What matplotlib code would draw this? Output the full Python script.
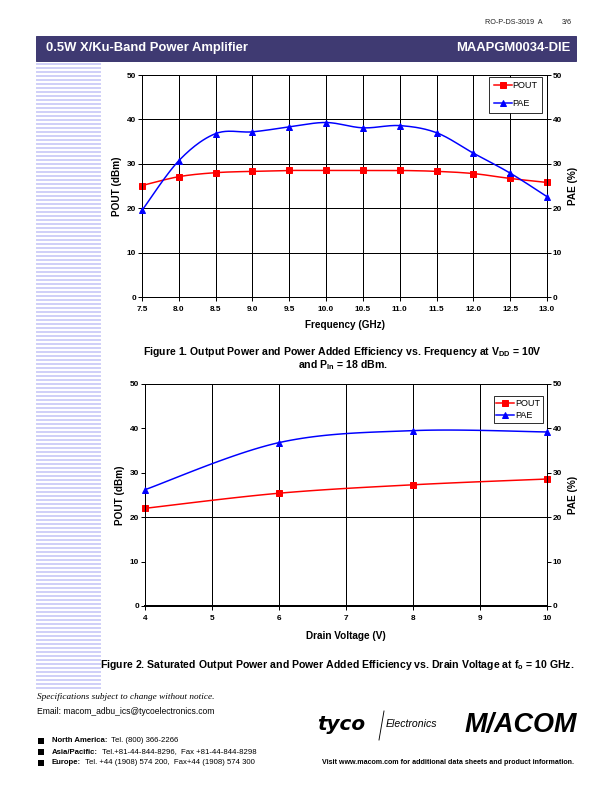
import numpy as np
import matplotlib
matplotlib.use("Agg")
import matplotlib.pyplot as plt
from matplotlib.patches import Rectangle
from matplotlib.lines import Line2D

plt.rcParams['font.family'] = ['Liberation Sans', 'DejaVu Sans']
plt.rcParams['mathtext.default'] = 'regular'

# ---------------- data ----------------
freq_ghz = [7.5, 8.0, 8.5, 9.0, 9.5, 10.0, 10.5, 11.0, 11.5, 12.0, 12.5, 13.0]
pout_freq = [25.1, 27.1, 28.0, 28.3, 28.5, 28.5, 28.5, 28.5, 28.3, 27.8, 26.7, 25.8]
pae_freq = [19.5, 30.7, 36.8, 37.2, 38.3, 39.3, 38.1, 38.6, 37.0, 32.4, 27.9, 22.6]

vdd_v = [4, 6, 8, 10]
pout_vdd = [22.0, 25.4, 27.3, 28.6]
pae_vdd = [26.2, 36.8, 39.5, 39.2]

freq_ticks = [7.5, 8.0, 8.5, 9.0, 9.5, 10.0, 10.5, 11.0, 11.5, 12.0, 12.5, 13.0]
freq_ticklabels = ['7.5', '8.0', '8.5', '9.0', '9.5', '10.0', '10.5', '11.0', '11.5', '12.0', '12.5', '13.0']
vdd_ticks = [4, 5, 6, 7, 8, 9, 10]
y_ticks = [0, 10, 20, 30, 40, 50]

W, H = 612, 792
fig = plt.figure(figsize=(W / 72, H / 72), dpi=72)


def fx(x):
    return x / W


def fy(y):
    return 1 - y / H


def smooth(x, y, n=24):
    """Excel-like smoothed line (Catmull-Rom through the data points)."""
    P = np.column_stack([x, y]).astype(float)
    P = np.vstack([P[0], P, P[-1]])
    t = np.linspace(0, 1, n)[:, None]
    segs = []
    for i in range(1, len(P) - 2):
        p0, p1, p2, p3 = P[i - 1], P[i], P[i + 1], P[i + 2]
        c = 0.5 * (2 * p1 + (-p0 + p2) * t + (2 * p0 - 5 * p1 + 4 * p2 - p3) * t ** 2
                   + (-p0 + 3 * p1 - 3 * p2 + p3) * t ** 3)
        segs.append(c)
    c = np.vstack(segs)
    return c[:, 0], c[:, 1]


# ---------------- page decoration ----------------
fig.patches.append(Rectangle((fx(36), fy(61)), fx(576) - fx(36), fy(36) - fy(61),
                             transform=fig.transFigure, color='#3f3a72', zorder=0))
fig.text(fx(46), fy(48), '0.5W X/Ku-Band Power Amplifier', color='white',
         fontsize=13, fontweight='bold', va='center', ha='left')
fig.text(fx(570), fy(48), 'MAAPGM0034-DIE', color='white',
         fontsize=13, fontweight='bold', va='center', ha='right')
fig.text(fx(485), fy(22.5), 'RO-P-DS-3019  A', fontsize=7.3,
         va='center', ha='left', color='#222222')
fig.text(fx(572), fy(22.5), '3/6', fontsize=7.3,
         va='center', ha='right', color='#222222')

for ys in range(63, 688, 4):
    fig.patches.append(Rectangle((fx(36), fy(ys + 2)), fx(101) - fx(36), 2 / H,
                                 transform=fig.transFigure, color='#d0d0f8', zorder=0, lw=0))

tick_font = dict(fontsize=8.3, fontweight='bold')
lab_font = dict(fontsize=10, fontweight='bold')


def style_axes(ax, ax2, xticks, xlabels, xlim):
    ax.set_xlim(*xlim)
    ax.set_ylim(0, 50)
    ax2.set_ylim(0, 50)
    ax.set_xticks(xticks)
    ax.set_xticklabels(xlabels, **tick_font)
    ax.set_yticks(y_ticks)
    ax.set_yticklabels([str(v) for v in y_ticks], **tick_font)
    ax2.set_yticks(y_ticks)
    ax2.set_yticklabels([str(v) for v in y_ticks], **tick_font)
    for a in (ax, ax2):
        a.tick_params(direction='out', length=4, width=1, color='black')
        a.tick_params(axis='y', pad=2)
        a.tick_params(axis='x', pad=5)
        for s in a.spines.values():
            s.set_color('black')
            s.set_linewidth(1)
    ax.set_ylabel('POUT (dBm)', labelpad=5, **lab_font)
    ax2.set_ylabel('PAE (%)', labelpad=6, **lab_font)


def legend(ax, anchor, spacing, pad):
    handles = [Line2D([], [], color='#ff0000', marker='s', markersize=6, lw=1.5),
               Line2D([], [], color='#0000ff', marker='^', markersize=6, lw=1.5)]
    lg = ax.legend(handles, ['POUT', 'PAE'], loc='upper right',
                   bbox_to_anchor=anchor, bbox_transform=fig.transFigure,
                   fontsize=9, frameon=True, fancybox=False, framealpha=1,
                   edgecolor='black', handlelength=2.0, handletextpad=0.1,
                   borderpad=pad, labelspacing=spacing, borderaxespad=0)
    lg.get_frame().set_linewidth(0.8)
    lg.set_zorder(10)


# ---------------- Figure 1 ----------------
ax1 = fig.add_axes([fx(142), fy(297), fx(547) - fx(142), fy(75) - fy(297)])
ax1b = ax1.twinx()
ax1.grid(True, color='black', lw=1)
ax1.set_axisbelow(True)
sx, sy = smooth(freq_ghz, pout_freq)
ax1.plot(sx, sy, color='#ff0000', lw=1.5, zorder=3)
ax1.plot(freq_ghz, pout_freq, ls='none', marker='s', markersize=6, color='#ff0000',
         zorder=4, clip_on=False)
sx, sy = smooth(freq_ghz, pae_freq)
ax1b.plot(sx, sy, color='#0000ff', lw=1.5, zorder=3)
ax1b.plot(freq_ghz, pae_freq, ls='none', marker='^', markersize=6, color='#0000ff',
          zorder=4, clip_on=False)
style_axes(ax1, ax1b, freq_ticks, freq_ticklabels, (7.5, 13.0))
ax1.set_xlabel('Frequency (GHz)', labelpad=7, **lab_font)
legend(ax1b, (fx(542), fy(77)), 1.0, 0.5)

fig.text(fx(342), fy(352),
         'Figure 1. Output Power and Power Added Efficiency vs. Frequency at V$_{DD}$ = 10V',
         ha='center', va='center', fontsize=10.5, fontweight='bold')
fig.text(fx(343), fy(365.5), 'and P$_{In}$ = 18 dBm.',
         ha='center', va='center', fontsize=10.5, fontweight='bold')

# ---------------- Figure 2 ----------------
ax2 = fig.add_axes([fx(145), fy(606), fx(547) - fx(145), fy(384) - fy(606)])
ax2b = ax2.twinx()
ax2.grid(True, axis='x', color='black', lw=1)
ax2.axhline(20, color='black', lw=1, zorder=1)
ax2.set_axisbelow(True)
sx, sy = smooth(vdd_v, pout_vdd)
ax2.plot(sx, sy, color='#ff0000', lw=1.5, zorder=3)
ax2.plot(vdd_v, pout_vdd, ls='none', marker='s', markersize=6, color='#ff0000',
         zorder=4, clip_on=False)
sx, sy = smooth(vdd_v, pae_vdd)
ax2b.plot(sx, sy, color='#0000ff', lw=1.5, zorder=3)
ax2b.plot(vdd_v, pae_vdd, ls='none', marker='^', markersize=6, color='#0000ff',
          zorder=4, clip_on=False)
style_axes(ax2, ax2b, vdd_ticks, [str(v) for v in vdd_ticks], (4, 10))
ax2.spines['bottom'].set_linewidth(2)
ax2b.spines['bottom'].set_linewidth(2)
ax2.set_xlabel('Drain Voltage (V)', labelpad=9, **lab_font)
legend(ax2b, (fx(543), fy(396)), 0.4, 0.3)

fig.text(fx(574), fy(665.5),
         'Figure 2. Saturated Output Power and Power Added Efficiency vs. Drain Voltage at f$_{o}$ = 10 GHz.',
         ha='right', va='center', fontsize=10.5, fontweight='bold')

# ---------------- footer ----------------
fig.text(fx(37), fy(697), 'Specifications subject to change without notice.',
         fontsize=9.3, style='italic', family='Liberation Serif', va='center', ha='left')
fig.text(fx(37), fy(711.5), 'Email: macom_adbu_ics@tycoelectronics.com',
         fontsize=8.5, va='center', ha='left')

renderer = fig.canvas.get_renderer()
contacts = [('North America:', '  Tel. (800) 366-2266', 741),
            ('Asia/Pacific:', '  Tel.+81-44-844-8296,  Fax +81-44-844-8298', 752),
            ('Europe:', '  Tel. +44 (1908) 574 200,  Fax+44 (1908) 574 300', 763)]
for bold_part, rest, yy in contacts:
    fig.patches.append(Rectangle((fx(38), fy(yy + 3)), 6 / W, 6 / H,
                                 transform=fig.transFigure, color='black', lw=0))
    t = fig.text(fx(52), fy(yy), bold_part, fontsize=7.8, fontweight='bold',
                 va='center', ha='left')
    bb = t.get_window_extent(renderer)
    fig.text(bb.x1 / W, fy(yy), rest, fontsize=7.8, va='center', ha='left')

fig.text(fx(574), fy(763),
         'Visit www.macom.com for additional data sheets and product information.',
         fontsize=7.1, fontweight='bold', va='center', ha='right')

fig.text(fx(317), fy(725), 'tyco', fontsize=20, fontweight='heavy', style='italic',
         family='DejaVu Sans', va='center', ha='left')
fig.add_artist(Line2D([fx(384), fx(379)], [fy(711), fy(740)], color='black', lw=0.9,
                      transform=fig.transFigure))
fig.text(fx(386), fy(724), 'Electronics', fontsize=10.5, style='italic',
         va='center', ha='left')
fig.text(fx(577), fy(725), 'M/ACOM', fontsize=27, fontweight='heavy', style='italic',
         va='center', ha='right')

fig.savefig('out.png', dpi=72)
